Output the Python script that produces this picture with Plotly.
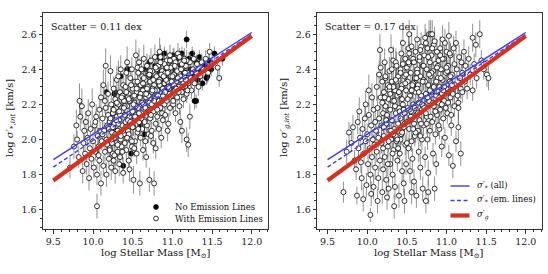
import plotly.graph_objects as go

# ---------------- data: left panel (stellar dispersion) ----------------
# galaxies WITH emission lines (open circles)
em_x = [9.71,9.76,9.80,9.83,9.84,9.82,9.79,
        9.86,9.87,9.88,9.89,9.90,9.91,9.92,9.93,9.94,9.95,9.96,9.97,9.98,9.99,
        10.00,10.01,10.02,10.03,10.04,10.05,10.05,10.06,10.07,10.08,10.08,10.09,10.10,10.10,10.03,10.07,
        10.11,10.12,10.13,10.13,10.14,10.15,10.16,10.16,10.17,10.18,10.18,10.19,10.19,10.20,10.12,10.15,10.17,
        10.21,10.21,10.22,10.23,10.23,10.24,10.25,10.25,10.26,10.27,10.27,10.28,10.28,10.29,10.30,10.30,10.22,10.26,10.29,
        10.31,10.31,10.32,10.33,10.33,10.34,10.35,10.35,10.36,10.36,10.37,10.38,10.38,10.39,10.39,10.40,10.32,10.34,10.37,10.40,
        10.41,10.41,10.42,10.43,10.43,10.44,10.45,10.45,10.46,10.47,10.47,10.48,10.48,10.49,10.50,10.50,10.42,10.44,10.46,10.49,10.45,
        10.51,10.51,10.52,10.53,10.53,10.54,10.54,10.55,10.55,10.56,10.57,10.57,10.58,10.58,10.59,10.59,10.60,10.60,10.52,10.56,10.53,
        10.61,10.61,10.62,10.63,10.63,10.64,10.64,10.65,10.66,10.66,10.67,10.68,10.68,10.69,10.69,10.70,10.62,10.65,10.67,10.70,
        10.71,10.71,10.72,10.72,10.73,10.74,10.74,10.75,10.76,10.76,10.77,10.77,10.78,10.78,10.79,10.80,10.80,10.73,10.75,10.79,
        10.81,10.81,10.82,10.83,10.83,10.84,10.85,10.85,10.86,10.86,10.87,10.88,10.88,10.89,10.90,10.90,10.84,10.87,
        10.91,10.91,10.92,10.93,10.93,10.94,10.95,10.95,10.96,10.97,10.97,10.98,10.99,11.00,11.00,10.94,
        11.01,11.02,11.02,11.03,11.04,11.05,11.05,11.06,11.07,11.08,11.08,11.09,11.10,11.10,11.06,
        11.11,11.12,11.12,11.13,11.14,11.15,11.15,11.16,11.17,11.18,11.18,11.19,11.20,11.20,11.22,
        11.22,11.23,11.24,11.26,11.27,11.28,11.30,11.31,11.33,11.35,11.37,11.39,
        11.42,11.45,11.47,11.50,11.57,11.59,
        10.20,10.22,10.24,10.26,10.28,10.30,10.32,10.34,10.36,10.38,10.40,10.42,10.44,10.46,10.48,10.50,10.52,10.54,10.56,10.58,
        10.60,10.62,10.64,10.66,10.68,10.70,10.72,10.74,10.76,10.78,10.80,10.82,10.84,10.86,10.88,10.90,10.92,10.94,10.96,10.98,
        11.00,11.02,11.04,11.06,11.08,11.10,11.12,11.14,11.16,11.18,
        10.21,10.23,10.25,10.27,10.29,10.31,10.33,10.35,10.37,10.39,10.41,10.43,10.45,10.47,10.49,10.51,10.53,10.55,10.57,10.59,
        10.61,10.63,10.65,10.67,10.69,10.71,10.73,10.75,10.77,10.79,10.81,10.83,10.85,10.87,10.89,10.91,10.93,10.95,10.97,10.99,
        11.01,11.03,11.05,11.07,11.09,11.11,11.13,11.15,11.17,11.19]
em_y = [1.84,1.96,2.00,2.22,2.13,1.90,2.08,
        2.19,1.82,1.98,2.05,1.92,2.10,1.86,2.01,2.15,1.78,1.95,2.06,1.89,2.20,
        1.99,1.84,2.08,1.93,2.13,1.62,1.80,2.02,1.96,2.17,1.88,2.05,1.75,2.24,2.10,1.91,
        1.99,2.12,1.85,2.31,2.05,1.93,2.18,2.42,1.80,2.08,1.97,2.26,2.14,1.89,2.03,2.22,2.00,
        2.10,1.95,2.39,2.20,1.84,2.04,2.15,1.92,2.29,2.01,2.09,1.82,2.23,1.98,2.13,2.34,2.07,1.88,2.18,
        2.05,1.93,2.20,2.11,1.86,2.27,2.00,2.40,2.16,1.96,2.08,2.31,1.81,2.22,2.03,2.14,2.36,1.90,2.25,1.98,
        2.10,2.30,1.94,2.19,2.44,2.05,2.26,1.88,2.13,2.35,2.00,2.22,2.09,1.96,2.29,2.16,2.38,2.24,1.83,2.40,2.03,
        2.07,1.77,2.21,2.33,1.99,2.48,2.14,2.27,1.92,2.04,2.38,2.18,2.10,2.44,1.75,2.25,2.01,2.31,1.95,2.41,2.12,
        2.15,2.40,2.06,2.28,1.94,2.20,2.46,2.11,2.34,1.99,2.24,2.08,2.42,2.17,2.30,2.03,2.36,2.26,1.90,2.37,
        1.77,2.21,2.33,2.12,2.45,2.05,2.27,2.39,2.16,1.98,1.75,2.31,2.23,2.47,2.09,2.36,2.19,2.02,2.29,1.95,
        2.28,2.13,2.42,2.22,2.06,2.34,2.47,2.18,2.01,2.30,2.39,2.25,2.11,2.44,2.32,2.20,2.50,2.15,
        2.38,2.14,2.27,2.45,2.22,2.33,2.09,2.40,2.29,2.18,2.48,2.36,2.25,2.42,2.31,2.05,
        2.20,2.37,2.46,2.28,2.15,2.41,2.33,2.24,2.49,2.38,2.30,2.19,2.44,2.10,2.35,
        2.34,2.27,2.05,2.41,2.23,2.46,2.36,2.30,2.42,2.00,2.26,2.38,1.97,2.32,2.13,
        2.44,2.35,2.28,2.40,2.46,2.32,2.38,2.43,2.30,2.36,2.44,2.40,
        2.46,2.38,2.50,2.43,2.41,2.35,
        2.06,2.12,1.98,2.17,2.03,2.21,2.09,2.14,2.24,2.05,2.19,2.27,2.11,2.22,2.31,2.07,2.25,2.19,2.33,2.15,
        2.26,2.21,2.35,2.18,2.29,2.25,2.39,2.20,2.34,2.28,2.40,2.25,2.31,2.37,2.29,2.43,2.34,2.38,2.26,2.41,
        2.36,2.31,2.44,2.39,2.27,2.36,2.43,2.32,2.38,2.45,
        1.94,2.00,2.07,1.91,2.11,1.97,2.16,2.02,1.93,2.18,2.07,2.01,2.23,2.10,1.99,2.20,2.13,2.29,2.06,2.24,
        2.12,2.32,2.10,2.26,2.16,2.37,2.14,2.28,2.22,2.41,2.17,2.33,2.44,2.22,2.36,2.27,2.41,2.30,2.45,2.33,
        2.22,2.42,2.29,2.35,2.47,2.40,2.30,2.45,2.34,2.28]
em_err = [.06,.07,.05,.10,.08,.06,.09,
          .10,.07,.06,.07,.05,.06,.06,.05,.08,.07,.06,.05,.06,.09,
          .05,.06,.06,.05,.07,.07,.06,.05,.06,.07,.06,.05,.07,.08,.06,.05,
          .05,.06,.06,.09,.05,.06,.06,.10,.07,.05,.06,.07,.06,.05,.05,.07,.05,
          .05,.06,.09,.06,.07,.05,.05,.06,.07,.05,.05,.07,.06,.05,.05,.08,.05,.06,.05,
          .05,.06,.06,.05,.07,.06,.05,.08,.05,.06,.05,.07,.06,.05,.05,.05,.09,.06,.06,.05,
          .05,.06,.06,.05,.09,.05,.06,.07,.05,.07,.05,.05,.05,.06,.06,.05,.08,.06,.07,.07,.05,
          .05,.08,.05,.06,.05,.09,.05,.05,.06,.05,.07,.05,.05,.08,.07,.05,.05,.06,.05,.07,.05,
          .05,.07,.05,.05,.06,.05,.08,.05,.06,.05,.05,.05,.07,.05,.05,.05,.06,.05,.06,.06,
          .07,.05,.05,.05,.07,.05,.05,.06,.05,.06,.07,.05,.05,.07,.05,.05,.05,.05,.05,.06,
          .05,.05,.06,.05,.05,.05,.07,.05,.06,.05,.05,.05,.05,.06,.05,.05,.08,.05,
          .05,.05,.05,.06,.05,.05,.06,.05,.05,.05,.06,.05,.05,.05,.05,.06,
          .05,.05,.06,.05,.05,.05,.05,.05,.06,.05,.05,.05,.05,.07,.05,
          .05,.05,.07,.05,.05,.06,.05,.05,.05,.07,.05,.05,.07,.05,.07,
          .05,.05,.05,.05,.05,.05,.05,.05,.05,.05,.05,.05,
          .05,.05,.05,.05,.05,.05,
          .05,.06,.05,.05,.06,.05,.05,.06,.05,.05,.06,.05,.05,.06,.05,.05,.06,.05,.05,.06,
          .05,.05,.06,.05,.05,.06,.05,.05,.06,.05,.05,.06,.05,.05,.06,.05,.05,.06,.05,.05,
          .06,.05,.05,.06,.05,.05,.06,.05,.05,.06,
          .06,.05,.05,.06,.05,.05,.06,.05,.05,.06,.05,.05,.06,.05,.05,.06,.05,.05,.06,.05,
          .05,.06,.05,.05,.06,.05,.05,.06,.05,.05,.06,.05,.05,.06,.05,.05,.06,.05,.05,.06,
          .05,.05,.06,.05,.05,.06,.05,.05,.06,.05]

# galaxies with NO emission lines (filled circles)
noem_x = [10.17,10.27,10.29,10.35,10.43,10.38,10.55,10.62,10.66,10.71,
          10.75,10.78,10.82,10.84,10.86,10.88,10.90,10.92,10.95,10.97,
          10.99,11.01,11.03,11.05,11.07,11.09,11.12,11.14,11.16,11.18,
          11.19,11.21,11.23,11.25,11.27,11.28,11.30,11.32,11.34,11.36,
          11.38,11.41,11.44,11.46,11.49,11.53,11.63,10.48,10.60,10.25,
          10.28,10.44,10.65,11.30,11.43]
noem_y = [2.27,2.26,2.05,2.36,2.40,1.85,2.19,2.31,2.40,2.44,
          2.35,2.42,2.47,2.38,2.45,2.33,2.49,2.41,2.36,2.45,
          2.30,2.48,2.40,2.45,2.34,2.42,2.49,2.38,2.44,2.57,
          2.32,2.46,2.40,2.49,2.36,2.22,2.44,2.34,2.47,2.39,
          2.32,2.42,2.36,2.45,2.40,2.49,2.46,1.92,2.08,2.15,
          2.27,2.40,2.03,2.22,2.35]
noem_err = [.04,.04,.05,.04,.04,.05,.04,.04,.04,.04,
            .04,.04,.04,.04,.04,.04,.04,.04,.04,.04,
            .04,.04,.04,.04,.04,.04,.04,.04,.04,.05,
            .04,.04,.04,.04,.04,.05,.04,.04,.04,.04,
            .04,.04,.04,.04,.04,.04,.04,.05,.04,.04,
            .04,.04,.05,.04,.04]

# ---------------- data: right panel (gas dispersion) ----------------
gas_x = [9.70,9.74,9.77,9.80,9.82,9.84,
         9.86,9.87,9.88,9.89,9.90,9.91,9.92,9.93,9.94,9.95,9.96,9.97,9.98,9.99,9.98,
         10.00,10.01,10.02,10.03,10.04,10.04,10.05,10.06,10.06,10.07,10.08,10.08,10.09,10.10,10.10,10.02,10.05,
         10.11,10.12,10.12,10.13,10.14,10.14,10.15,10.16,10.16,10.17,10.17,10.18,10.18,10.19,10.19,10.20,10.20,10.13,10.15,
         10.21,10.21,10.22,10.23,10.23,10.24,10.24,10.25,10.26,10.26,10.27,10.27,10.28,10.28,10.29,10.29,10.30,10.30,10.22,10.25,10.28,
         10.31,10.31,10.32,10.32,10.33,10.33,10.34,10.35,10.35,10.36,10.36,10.37,10.37,10.38,10.38,10.39,10.39,10.40,10.40,10.34,10.36,10.33,
         10.41,10.41,10.42,10.42,10.43,10.43,10.44,10.44,10.45,10.45,10.46,10.46,10.47,10.47,10.48,10.48,10.49,10.49,10.50,10.50,10.44,10.47,10.42,
         10.51,10.51,10.52,10.52,10.53,10.53,10.54,10.54,10.55,10.55,10.56,10.56,10.57,10.57,10.58,10.58,10.59,10.59,10.60,10.60,10.53,10.56,10.58,
         10.61,10.61,10.62,10.62,10.63,10.63,10.64,10.64,10.65,10.65,10.66,10.66,10.67,10.67,10.68,10.68,10.69,10.69,10.70,10.70,10.63,10.67,
         10.71,10.71,10.72,10.72,10.73,10.73,10.74,10.74,10.75,10.75,10.76,10.76,10.77,10.77,10.78,10.78,10.79,10.79,10.80,10.80,10.74,10.77,
         10.81,10.81,10.82,10.82,10.83,10.83,10.84,10.84,10.85,10.85,10.86,10.86,10.87,10.87,10.88,10.88,10.89,10.90,10.90,
         10.91,10.91,10.92,10.92,10.93,10.94,10.94,10.95,10.95,10.96,10.97,10.97,10.98,10.99,11.00,11.00,
         11.01,11.02,11.03,11.03,11.04,11.05,11.05,11.06,11.07,11.08,11.08,11.09,11.10,11.10,
         11.11,11.12,11.12,11.13,11.14,11.15,11.15,11.15,11.16,11.17,11.18,11.18,11.19,11.20,11.20,
         11.22,11.23,11.24,11.26,11.28,11.30,11.33,11.33,11.35,11.37,11.38,
         11.42,11.44,11.47,11.51,11.53,
         10.19,10.21,10.23,10.25,10.27,10.29,10.31,10.33,10.35,10.37,10.39,10.41,10.43,10.45,10.47,
         10.49,10.51,10.53,10.55,10.57,10.59,10.61,10.63,10.65,10.67,10.69,10.71,10.73,10.75,10.77,
         10.79,10.81,10.83,10.85,10.87,10.89,10.91,10.93,10.95,10.97,10.99,11.01,11.03,11.05,11.07,
         10.20,10.22,10.24,10.26,10.28,10.30,10.32,10.34,10.36,10.38,10.40,10.42,10.44,10.46,10.48,
         10.50,10.52,10.54,10.56,10.58,10.60,10.62,10.64,10.66,10.68,10.70,10.72,10.74,10.76,10.78,
         10.80,10.82,10.84,10.86,10.88,10.90,10.92,10.94,10.96,10.98,11.00,11.02,11.04,11.06,11.08]
gas_y = [1.70,1.93,2.04,1.98,2.07,1.88,
         1.83,1.68,2.10,1.95,2.16,2.01,1.87,1.78,2.06,1.66,1.92,2.12,1.99,1.74,2.20,
         2.03,1.86,2.14,1.95,1.57,1.80,2.08,2.24,1.90,2.00,1.73,2.17,1.97,2.10,1.84,2.28,1.69,
         2.05,2.30,1.93,2.18,1.78,2.01,2.12,2.51,1.88,2.41,2.24,1.98,2.08,1.70,2.33,2.15,1.83,1.65,2.37,
         2.02,2.27,1.90,2.19,2.35,1.77,2.09,2.13,1.96,2.31,2.23,1.72,2.05,2.39,1.86,2.17,2.51,2.00,2.44,1.67,2.28,
         2.11,2.33,1.80,2.22,1.94,2.45,2.06,2.28,1.73,2.44,2.15,1.99,2.42,2.25,1.88,2.09,2.36,2.18,1.68,1.62,2.02,2.30,
         2.26,1.92,2.40,2.12,2.03,2.49,1.82,2.31,2.20,2.55,2.07,1.75,2.36,2.15,1.97,2.46,2.28,1.86,2.10,2.41,2.23,1.65,2.00,
         2.33,2.18,1.95,2.52,2.06,2.43,1.82,2.25,2.13,2.38,1.99,2.53,2.29,1.89,2.20,2.46,2.09,1.76,2.35,2.02,2.60,1.70,2.32,
         2.27,2.50,2.14,1.68,2.40,2.57,2.05,2.31,2.21,1.93,2.45,2.11,2.36,1.84,2.25,2.53,2.00,2.17,2.42,1.72,2.29,2.02,
         2.34,2.08,2.48,2.19,1.90,2.58,2.26,1.65,2.40,2.13,2.52,2.00,2.31,1.81,2.60,2.22,2.44,2.05,2.36,2.60,2.15,1.70,
         2.27,2.48,2.60,2.10,2.39,1.92,2.19,2.54,2.31,1.72,2.43,2.03,2.25,1.86,2.50,2.14,2.35,2.21,2.45,
         2.30,2.06,2.52,2.17,2.40,1.96,2.26,2.57,2.34,2.12,2.46,2.22,2.01,2.38,2.29,2.50,
         2.15,2.42,2.59,1.91,2.33,2.24,2.48,2.08,2.37,1.85,2.28,2.52,2.19,2.43,
         2.31,2.55,1.99,2.40,2.25,2.21,2.18,2.07,2.47,2.35,1.92,2.29,2.44,2.27,2.38,
         2.50,2.33,2.42,2.29,2.46,2.37,2.58,2.28,2.43,2.54,2.35,
         2.60,2.45,2.40,2.37,2.35,
         2.21,2.07,2.36,2.14,1.99,2.26,2.40,2.03,2.19,2.33,1.95,2.16,2.29,2.43,2.09,
         2.37,2.23,2.49,2.16,2.31,2.44,2.04,2.38,2.27,2.51,2.20,2.42,2.33,2.09,2.47,
         2.28,2.38,2.21,2.56,2.33,2.42,2.24,2.35,2.46,2.30,2.18,2.39,2.27,2.36,2.31,
         1.95,2.24,2.11,1.86,2.30,2.05,1.92,2.22,2.34,2.00,2.27,2.38,2.04,2.17,2.32,
         1.98,2.44,2.11,2.28,2.06,2.18,2.35,2.15,2.47,2.09,2.33,2.18,2.55,2.24,2.37,
         2.13,2.52,2.30,2.16,2.41,2.08,2.48,2.20,2.28,2.55,2.41,2.21,2.49,2.14,2.26]
gas_err = [.06,.07,.06,.05,.07,.06,
           .06,.05,.07,.06,.08,.06,.06,.07,.06,.07,.06,.07,.06,.07,.08,
           .06,.06,.07,.06,.04,.07,.06,.08,.06,.06,.07,.07,.06,.06,.07,.09,.07,
           .06,.08,.06,.07,.07,.06,.06,.09,.06,.08,.07,.06,.06,.07,.08,.06,.07,.07,.08,
           .06,.07,.06,.06,.08,.07,.06,.06,.06,.07,.06,.07,.06,.08,.06,.06,.09,.06,.08,.07,.07,
           .06,.07,.07,.06,.06,.08,.06,.07,.07,.08,.06,.06,.08,.06,.06,.06,.07,.06,.07,.07,.06,.07,
           .06,.06,.07,.06,.06,.08,.07,.06,.06,.08,.06,.07,.07,.06,.06,.07,.06,.06,.06,.07,.06,.07,.06,
           .06,.06,.06,.08,.06,.07,.07,.06,.06,.07,.06,.08,.06,.06,.06,.07,.06,.07,.06,.06,.08,.07,.06,
           .06,.07,.06,.07,.07,.08,.06,.06,.06,.06,.07,.06,.06,.07,.06,.08,.06,.06,.07,.07,.06,.06,
           .06,.06,.07,.06,.06,.08,.06,.07,.07,.06,.07,.06,.06,.07,.08,.06,.07,.06,.06,.08,.06,.07,
           .06,.07,.08,.06,.06,.06,.06,.07,.06,.07,.06,.06,.06,.06,.07,.06,.06,.06,.07,
           .06,.06,.07,.06,.06,.06,.06,.08,.06,.06,.07,.06,.06,.06,.06,.07,
           .06,.06,.08,.06,.06,.06,.07,.06,.06,.07,.06,.07,.06,.06,
           .06,.07,.06,.06,.06,.09,.09,.08,.07,.06,.07,.06,.06,.06,.06,
           .07,.06,.06,.06,.07,.06,.08,.06,.06,.07,.06,
           .08,.06,.06,.07,.07,
           .06,.06,.07,.06,.06,.06,.07,.06,.06,.07,.06,.06,.06,.07,.06,
           .06,.06,.07,.06,.06,.07,.06,.07,.06,.07,.06,.07,.06,.06,.07,
           .06,.06,.06,.08,.06,.06,.06,.06,.07,.06,.06,.06,.06,.06,.06,
           .06,.06,.06,.07,.06,.06,.06,.06,.06,.06,.06,.07,.06,.06,.06,
           .06,.07,.06,.06,.06,.06,.06,.06,.07,.06,.06,.06,.08,.06,.06,
           .06,.07,.06,.06,.07,.06,.07,.06,.06,.08,.06,.06,.07,.06,.06]

# ---------------- fitted relations (same in both panels) ----------------
fit_x = [9.5, 12.0]
fit_star_all = [1.885, 2.610]
fit_star_em = [1.843, 2.600]
fit_gas = [1.766, 2.590]

scatter_labels = ["Scatter = 0.11 dex", "Scatter = 0.17 dex"]
x_title = "log Stellar Mass [M<sub>⊙</sub>]"
y_titles = ["log <i>σ</i>′<sub>*,<i>int</i></sub> [km/s]",
            "log <i>σ</i>′<sub><i>g,int</i></sub> [km/s]"]
legend_left = ["No Emission Lines", "With Emission Lines"]
legend_right = ["<i>σ</i>′<sub>*</sub> (all)", "<i>σ</i>′<sub>*</sub> (em. lines)", "<i>σ</i>′<sub><i>g</i></sub>"]

# ---------------- figure ----------------
W, H = 548, 274
FONT = "DejaVu Serif"
BLUE = "#3b3bff"
RED = "#d7301f"
ERRC = "rgba(110,110,110,0.75)"

def px(v):
    return v / W

def py(v):
    return 1 - v / H

fig = go.Figure()

def add_points(x, y, e, xa, ya, filled, name):
    n = min(len(x), len(y), len(e))
    fig.add_trace(go.Scatter(
        x=x[:n], y=y[:n], mode="markers", name=name, showlegend=False,
        xaxis=xa, yaxis=ya, hoverinfo="skip",
        marker=dict(size=5, color="black" if filled else "white",
                    line=dict(color="black", width=0.8)),
        error_y=dict(type="data", array=e[:n], visible=True, color=ERRC,
                     thickness=1, width=0)))

def add_fits(xa, ya):
    fig.add_trace(go.Scatter(x=fit_x, y=fit_star_all, mode="lines", xaxis=xa, yaxis=ya,
                             showlegend=False, name="sigma* (all)", hoverinfo="skip",
                             line=dict(color=BLUE, width=1.4)))
    fig.add_trace(go.Scatter(x=fit_x, y=fit_star_em, mode="lines", xaxis=xa, yaxis=ya,
                             showlegend=False, name="sigma* (em. lines)", hoverinfo="skip",
                             line=dict(color=BLUE, width=1.4, dash="4px,2.5px")))
    fig.add_trace(go.Scatter(x=fit_x, y=fit_gas, mode="lines", xaxis=xa, yaxis=ya,
                             showlegend=False, name="sigma g", hoverinfo="skip",
                             line=dict(color=RED, width=4.2)))

# left panel
add_points(noem_x, noem_y, noem_err, "x", "y", True, legend_left[0])
add_points(em_x, em_y, em_err, "x", "y", False, legend_left[1])
add_fits("x", "y")
# right panel
add_points(gas_x, gas_y, gas_err, "x2", "y2", False, "gas")
add_fits("x2", "y2")

tickfont = dict(family=FONT, size=9.5, color="#222")
common = dict(showline=True, mirror=True, linecolor="#333", linewidth=1,
              ticks="outside", ticklen=3.5, tickwidth=1, tickcolor="#333",
              showgrid=False, zeroline=False, tickfont=tickfont, tickformat=".1f")
xcommon = dict(common, range=[9.37, 12.205], tick0=9.5, dtick=0.5,
               minor=dict(ticks="outside", ticklen=2, tickcolor="#333", dtick=0.1, showgrid=False))
ycommon = dict(common, range=[1.49, 2.721], tick0=1.6, dtick=0.2,
               minor=dict(ticks="outside", ticklen=2, tickcolor="#333", dtick=0.05, showgrid=False))

ybot, ytop = py(229), py(13)
fig.update_layout(
    width=W, height=H, margin=dict(l=0, r=0, t=0, b=0),
    paper_bgcolor="white", plot_bgcolor="white", showlegend=False,
    xaxis=dict(xcommon, domain=[px(43), px(268)], anchor="y"),
    yaxis=dict(ycommon, domain=[ybot, ytop], anchor="x"),
    xaxis2=dict(xcommon, domain=[px(317.3), px(542)], anchor="y2"),
    yaxis2=dict(ycommon, domain=[ybot, ytop], anchor="x2"),
)

ann = []
shapes = []
for i, off in enumerate([0, 274]):
    ann.append(dict(text=scatter_labels[i], xref="paper", yref="paper",
                    x=px(off + 49), y=py(26.7), xanchor="left", yanchor="middle",
                    showarrow=False, font=dict(family=FONT, size=9.5, color="#111")))
    ann.append(dict(text=x_title, xref="paper", yref="paper",
                    x=px(off + 155.5), y=py(253), xanchor="center", yanchor="middle",
                    showarrow=False, font=dict(family=FONT, size=10, color="#111")))
    ann.append(dict(text=y_titles[i], xref="paper", yref="paper",
                    x=px(off + 10), y=py(118), xanchor="center", yanchor="middle",
                    textangle=-90, showarrow=False, font=dict(family=FONT, size=10, color="#111")))

# left legend (markers + labels)
for j, (label, filled, yy) in enumerate([(legend_left[0], True, 207), (legend_left[1], False, 218.5)]):
    shapes.append(dict(type="circle", xref="paper", yref="paper",
                       xsizemode="pixel", ysizemode="pixel",
                       xanchor=px(156), yanchor=py(yy), x0=-2.4, x1=2.4, y0=-2.4, y1=2.4,
                       fillcolor="black" if filled else "white",
                       line=dict(color="black", width=0.8)))
    ann.append(dict(text=label, xref="paper", yref="paper", x=px(172.5), y=py(yy),
                    xanchor="left", yanchor="middle", showarrow=False,
                    font=dict(family=FONT, size=8.5, color="#111")))

# right legend (line samples + labels)
styles = [dict(color=BLUE, width=1.4), dict(color=BLUE, width=1.4, dash="4px,2.5px"),
          dict(color=RED, width=4.2)]
for j, yy in enumerate([186, 200.5, 215.5]):
    shapes.append(dict(type="line", xref="paper", yref="paper",
                       x0=px(450.5), x1=px(469.5), y0=py(yy), y1=py(yy), line=styles[j]))
    ann.append(dict(text=legend_right[j], xref="paper", yref="paper", x=px(474.5), y=py(yy - 1),
                    xanchor="left", yanchor="middle", showarrow=False,
                    font=dict(family=FONT, size=8.5, color="#111")))

fig.update_layout(annotations=ann, shapes=shapes)
fig.write_html("out.html", config={"displayModeBar": False},
               post_script="document.body.style.margin='0';document.body.style.overflow='hidden';")
